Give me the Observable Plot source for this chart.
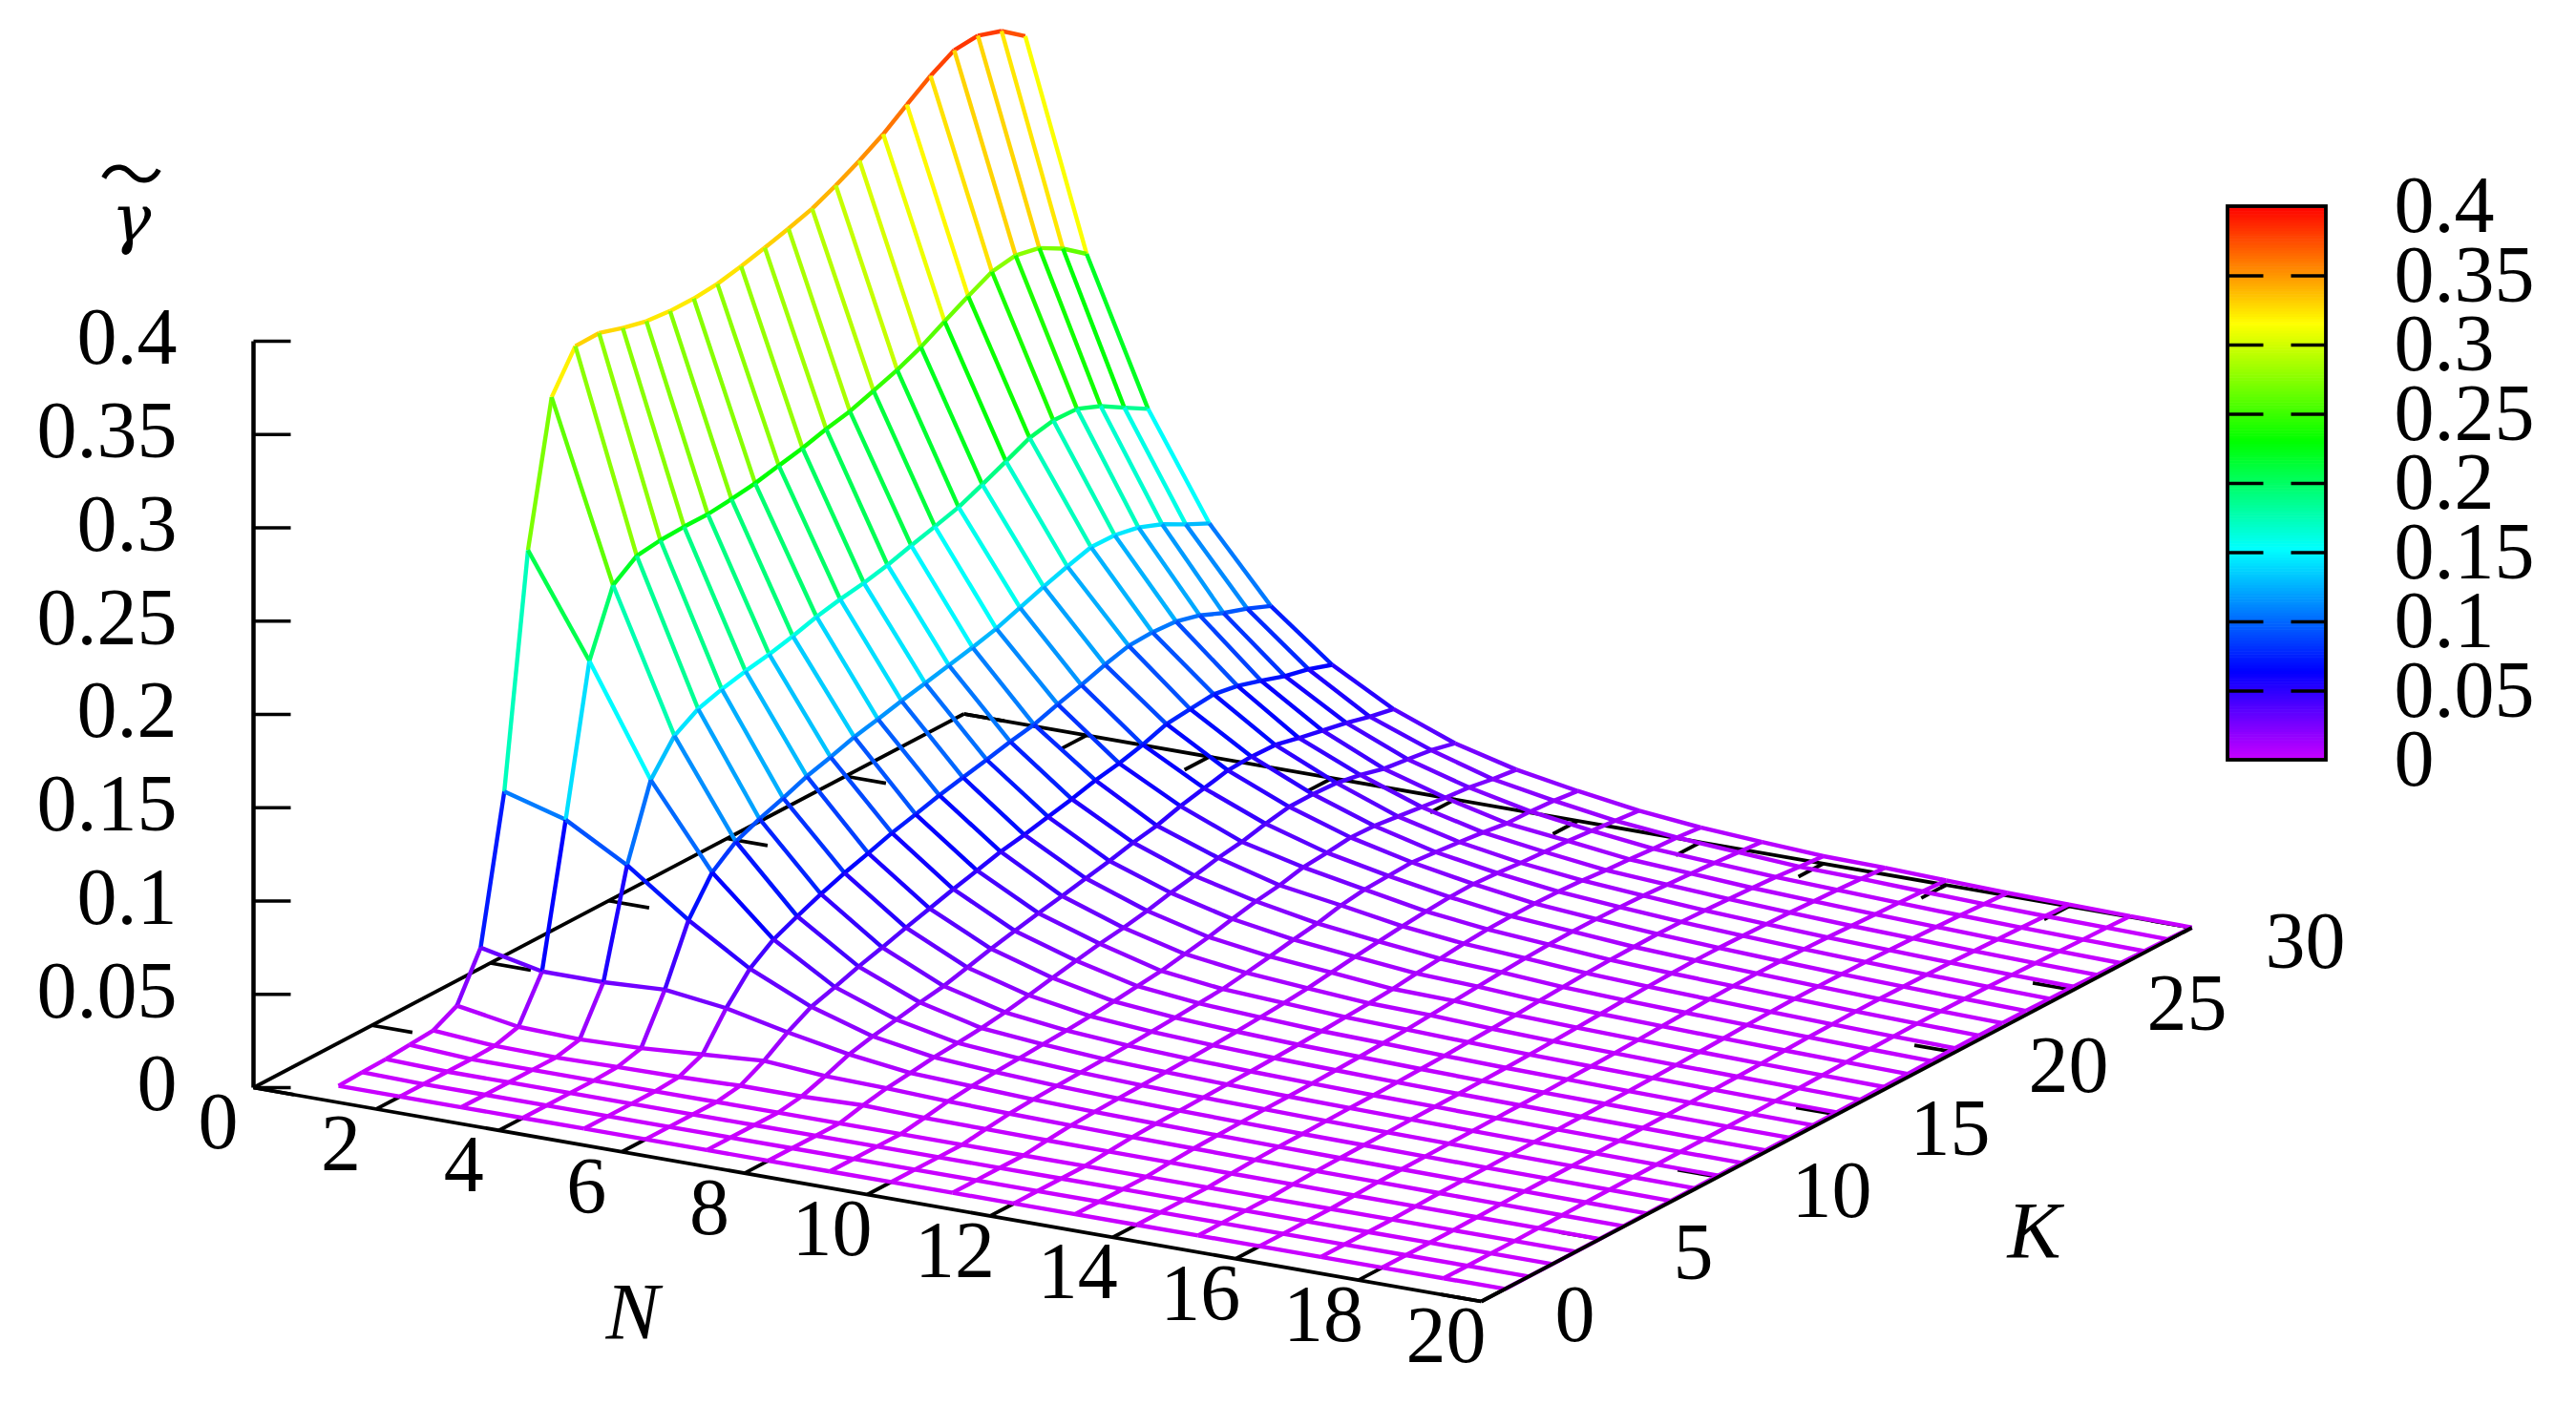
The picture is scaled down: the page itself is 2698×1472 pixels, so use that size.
<!DOCTYPE html>
<html><head><meta charset="utf-8">
<script src="https://cdn.jsdelivr.net/npm/d3@7"></script>
<script src="https://cdn.jsdelivr.net/npm/@observablehq/plot@0.6"></script>
<style>html,body{margin:0;padding:0;background:#fff}svg{display:block}</style>
</head><body><div id="chart"></div>
<script>
// ---- data: gamma-tilde, one array per N, entries for K = 1..30
const N1=[0,.0006,.001,.002,.003,.0096,.034,.111,.2337,.309,.3297,.33,.326,.323,.3218,.3218,.323,.3257,.329,.3326,.3366,.3424,.349,.3565,.3656,.3744,.3815,.3826,.3784,.369];
const N2=[0,0,0,0,.0005,.004,.027,.1016,.18,.214,.223,.2247,.2253,.2253,.2267,.2285,.2313,.234,.2376,.2404,.2447,.2492,.2548,.2619,.2687,.2751,.2772,.2745,.2675,.258];
const N3=[0,0,0,0,0,.003,.027,.083,.122,.139,.1467,.1506,.1536,.156,.159,.1627,.1654,.1675,.1704,.1742,.1777,.1814,.1869,.1926,.1985,.2012,.2007,.1955,.188,.1807];
const N4=[0,0,0,0,.0006,.004,.0287,.0593,.0782,.088,.0935,.098,.103,.1066,.1107,.1136,.1167,.1195,.1224,.1253,.1287,.1333,.1379,.142,.1457,.1454,.1429,.1379,.1312,.125];
const N5=[0,0,0,0,.001,.0064,.0245,.039,.048,.0537,.059,.0636,.0675,.0717,.075,.0785,.0814,.0842,.0872,.0897,.0939,.0976,.1018,.1052,.1058,.1049,.1015,.0961,.0918,.0865];
const N6=[0,0,0,0,.002,.0087,.0173,.0243,.0282,.0325,.0361,.04,.0436,.0473,.0506,.054,.0564,.0594,.0622,.0656,.068,.0713,.0757,.0771,.0783,.0761,.0722,.068,.065,.0607];
const N7=[0,0,0,0,.002,.0063,.0112,.0142,.0165,.019,.0211,.0244,.0277,.0307,.0335,.036,.0388,.0414,.0446,.047,.0508,.0537,.0566,.0573,.0569,.0539,.0512,.0487,.0453,.0427];
const N8=[0,0,0,0,.003,.0055,.007,.0087,.0097,.011,.0128,.0152,.0179,.0204,.0228,.0247,.0271,.0301,.0326,.0355,.0374,.0404,.0428,.0429,.0422,.0399,.0365,.0349,.0331,.0301];
const N9=[0,0,0,0,.002,.0042,.0056,.0065,.0072,.008,.0088,.0098,.011,.0125,.014,.0164,.0188,.0218,.0246,.0265,.0295,.0306,.0321,.0316,.03,.0284,.0267,.0255,.0233,.0217];
const N10=[0,0,0,0,.0017,.0033,.0042,.0048,.0053,.0058,.0064,.0072,.008,.009,.01,.012,.0141,.0165,.0185,.0215,.0233,.0239,.0245,.0233,.022,.0205,.0187,.0184,.0175,.016];
const N11=[0,0,0,0,.0014,.0027,.0033,.0038,.0042,.0046,.005,.0056,.0063,.0072,.0082,.0095,.0112,.013,.0145,.016,.0173,.0183,.0186,.0178,.0166,.0158,.015,.0138,.0125,.0112];
const N12=[0,0,0,0,.0012,.0022,.0027,.003,.0034,.0037,.004,.0045,.005,.0056,.0064,.0072,.0082,.0098,.011,.0124,.0134,.0138,.0139,.0136,.0129,.0117,.0109,.0099,.0092,.0079];
const N13=[0,0,0,0,.001,.0018,.0022,.0025,.0028,.003,.0033,.0037,.0042,.0048,.0055,.0065,.0075,.0085,.0095,.0103,.011,.0113,.0113,.011,.0105,.0097,.009,.008,.007,.0059];
const N14=[0,0,0,0,.0008,.0015,.0018,.002,.0023,.0025,.0027,.003,.0034,.0038,.0044,.005,.0057,.0065,.0073,.008,.0085,.0088,.009,.0088,.0083,.0077,.007,.0062,.005,.004];
const N15=[0,0,0,0,.0007,.0012,.0015,.0017,.0019,.0021,.0023,.0025,.0028,.0031,.0035,.004,.0046,.0053,.006,.0066,.007,.0073,.0073,.0071,.0067,.0062,.0056,.005,.0043,.0035];
const N16=[0,0,0,0,.0005,.001,.0012,.0014,.0016,.0017,.0019,.0021,.0023,.0026,.0029,.0033,.0038,.0044,.005,.0055,.0059,.006,.0059,.0057,.0053,.0048,.0043,.0038,.0032,.0025];
const N17=[0,0,0,0,.0004,.0008,.001,.0011,.0013,.0014,.0015,.0017,.0019,.0021,.0024,.0027,.0031,.0036,.0041,.0045,.0048,.0048,.0047,.0045,.0042,.0038,.0033,.0028,.0022,.0015];
const N18=[0,0,0,0,.0003,.0006,.0008,.0009,.001,.0011,.0012,.0014,.0015,.0017,.0019,.0022,.0025,.0029,.0033,.0036,.0038,.0038,.0037,.0035,.0032,.0028,.0024,.002,.0015,.001];
const N19=[0,0,0,0,.0002,.0004,.0006,.0007,.0008,.0009,.001,.0011,.0012,.0013,.0015,.0017,.002,.0023,.0026,.0028,.003,.003,.0029,.0027,.0024,.002,.0017,.0013,.001,.0005];
const N20=[0,0,0,0,.0001,.0003,.0004,.0005,.0006,.0007,.0008,.0009,.001,.001,.0012,.0013,.0015,.0018,.002,.0022,.0023,.0023,.0022,.002,.0018,.0014,.0011,.0008,.0005,.0002];
const gammaRows=[N1,N2,N3,N4,N5,N6,N7,N8,N9,N10,N11,N12,N13,N14,N15,N16,N17,N18,N19,N20];
const nTicks=[0,2,4,6,8,10,12,14,16,18,20];
const kTicks=[0,5,10,15,20,25,30];
const zTicks=[0,.05,.1,.15,.2,.25,.3,.35,.4];
const zLabels=["0","0.05","0.1","0.15","0.2","0.25","0.3","0.35","0.4"];
const paletteStops=[0,.064,.152,.23,.315,.4];
const paletteColors=["#c800ff","#0000ff","#00ffff","#00ff00","#ffff00","#ff0000"];

// ---- view of the 3D box on the page
const view={x0:265,y0:1139,nx:64.3,ny:11.2,kx:24.8,ky:-13.05,zy:-1955};
const px=(n,k)=>view.x0+view.nx*n+view.kx*k;
const py=(n,k,z=0)=>view.y0+view.ny*n+view.ky*k+view.zy*z;
const bar={x1:2333,x2:2436,top:216,bottom:796};
const barY=v=>bar.bottom-(bar.bottom-bar.top)*v/.4;

// surface segments, each coloured by its mean height
const segs=[];
gammaRows.forEach((row,i)=>row.forEach((z,j)=>{
  const n=i+1,k=j+1;
  if(j<29){const z2=row[j+1];segs.push({n1:n,k1:k,z1:z,n2:n,k2:k+1,z2});}
  if(i<19){const z2=gammaRows[i+1][j];segs.push({n1:n,k1:k,z1:z,n2:n+1,k2:k,z2});}
}));
const seg=(data,o={})=>Plot.link(data,{x1:d=>px(d[0],d[1]),y1:d=>py(d[0],d[1],d[2]),x2:d=>px(d[3],d[4]),y2:d=>py(d[3],d[4],d[5]),stroke:"black",strokeWidth:3.8,...o});

const backEdges=[[0,0,0,0,30,0],[0,30,0,20,30,0]];
const frontEdges=[[0,0,0,20,0,0],[20,0,0,20,30,0]];
const zAxis=[[0,0,0,0,0,.4]];
const innerTicks=[
  ...nTicks.slice(1).map(n=>[n,0,0,n,1.05,0]),
  ...nTicks.slice(1).map(n=>[n,30,0,n,28.95,0]),
  ...kTicks.map(k=>[0,k,0,.66,k,0]),
  ...kTicks.map(k=>[20,k,0,19.34,k,0])
];
const bins=d3.range(0,.4,.002);
const font={fontFamily:"Liberation Serif",fill:"black",fontSize:84,lineAnchor:"middle"};

const plot=Plot.plot({
  width:2698,height:1472,margin:0,style:{background:"white",overflow:"visible"},
  x:{domain:[0,2698],range:[0,2698],axis:null},
  y:{domain:[0,1472],range:[0,1472],axis:null},
  color:{type:"linear",domain:paletteStops,range:paletteColors,interpolate:"rgb",clamp:true},
  marks:[
    seg(innerTicks),
    seg(backEdges),
    Plot.link(segs,{x1:d=>px(d.n1,d.k1),y1:d=>py(d.n1,d.k1,d.z1),x2:d=>px(d.n2,d.k2),y2:d=>py(d.n2,d.k2,d.z2),stroke:d=>(d.z1+d.z2)/2,strokeWidth:4.4}),
    seg(frontEdges),
    seg(zAxis,{strokeWidth:4.5}),
    Plot.link(zTicks,{x1:()=>px(0,0),x2:()=>px(0,0)+39,y1:z=>py(0,0,z),y2:z=>py(0,0,z),stroke:"black",strokeWidth:3.5}),
    Plot.text(zTicks,{x:()=>185,y:z=>py(0,0,z)-3,text:(z,i)=>zLabels[i],textAnchor:"end",...font}),
    Plot.text(nTicks,{x:n=>px(n,0)-37,y:n=>py(n,0)+37,text:n=>String(n),textAnchor:"middle",...font}),
    Plot.text(kTicks,{x:k=>px(20,k)+77,y:k=>py(20,k)+15,text:k=>String(k),textAnchor:"start",...font}),
    Plot.text(["N"],{x:()=>662,y:()=>1376,text:d=>d,textAnchor:"middle",fontStyle:"italic",...font}),
    Plot.text(["K"],{x:()=>2130,y:()=>1291,text:d=>d,textAnchor:"middle",fontStyle:"italic",...font}),
    Plot.text(["γ"],{x:()=>137,y:()=>230,text:d=>d,textAnchor:"middle",fontStyle:"italic",...font,fontFamily:"DejaVu Serif",fontSize:70}),
    Plot.text(["〜"],{x:()=>137,y:()=>186,text:d=>d,textAnchor:"middle",...font,fontFamily:"Noto Sans CJK JP",fontSize:68}),
    Plot.rect(bins,{x1:()=>bar.x1,x2:()=>bar.x2,y1:v=>barY(v),y2:v=>barY(v+.002)-.6,fill:v=>v+.001}),
    Plot.rect([0],{x1:()=>bar.x1,x2:()=>bar.x2,y1:()=>bar.top,y2:()=>bar.bottom,fill:"none",stroke:"black",strokeWidth:3.8}),
    Plot.link(zTicks.slice(1,-1),{x1:()=>bar.x1,x2:()=>bar.x1+37,y1:barY,y2:barY,stroke:"black",strokeWidth:3.5}),
    Plot.link(zTicks.slice(1,-1),{x1:()=>bar.x2-37,x2:()=>bar.x2,y1:barY,y2:barY,stroke:"black",strokeWidth:3.5}),
    Plot.text(zTicks,{x:()=>2507,y:barY,text:(z,i)=>zLabels[i],textAnchor:"start",...font})
  ]
});
document.getElementById("chart").append(plot);
</script></body></html>
